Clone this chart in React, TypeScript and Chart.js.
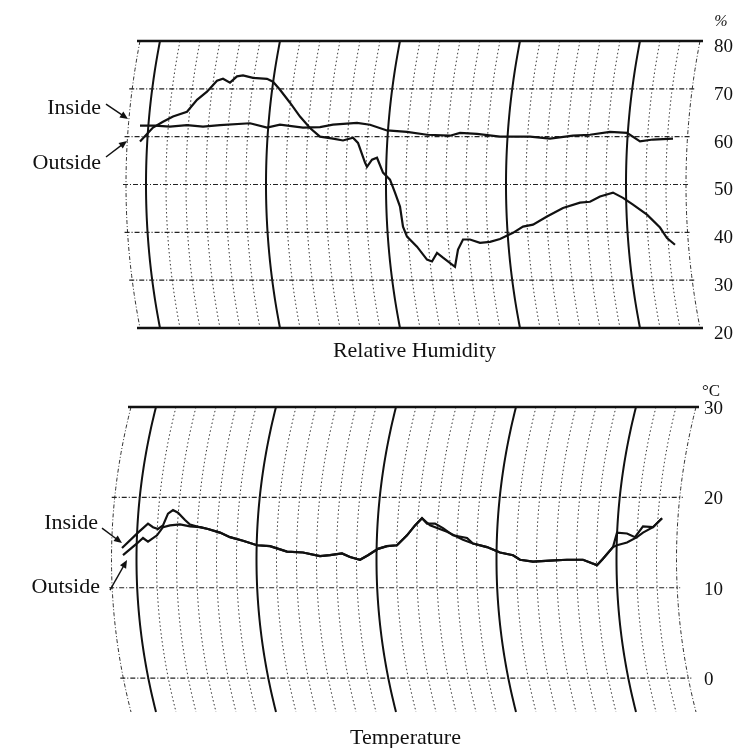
import React, { useEffect, useRef } from "react";
import { Chart, registerables } from "chart.js";

Chart.register(...registerables);

// ---------- Relative humidity (%), time in hours from first bold chart line ----------
const humOutsideHours = [-4, -1.4, 0.6, 2.6, 5.4, 7.4, 9.4, 11.4, 12.6, 14, 15.4, 16.6, 18.6, 21.4, 22.6, 24, 26, 28, 30, 32, 34.6, 36.6, 38.6, 39.6, 41, 41.4, 42.4, 43.4, 44.6, 46, 47, 48, 48.6, 49.4, 51.4, 53.4, 54.4, 55.4, 56.6, 59, 59.6, 60.6, 62, 64, 66, 68, 70.6, 72.6, 74.6, 77.4, 80.6, 84, 86, 88, 90.6, 92.6, 94.6, 97.4, 100, 101.4, 103];
const humOutside = [59.0, 61.9, 63.1, 64.2, 65.2, 67.7, 69.4, 71.7, 72.1, 71.3, 72.6, 72.8, 72.3, 72.1, 71.5, 69.8, 67.1, 64.2, 61.8, 60.0, 59.6, 59.2, 59.8, 58.7, 54.6, 53.7, 55.2, 55.6, 52.5, 51.0, 48.3, 45.4, 41.2, 39.1, 37.0, 34.3, 33.9, 35.7, 34.7, 32.8, 36.4, 38.5, 38.5, 37.8, 38.0, 38.6, 39.9, 41.2, 41.6, 43.3, 45.1, 46.2, 46.4, 47.5, 48.3, 47.2, 45.8, 43.7, 41.0, 38.8, 37.4];

const humInsideHours = [-4, -1, 2, 5.4, 8.6, 12, 18, 21.4, 24, 28.6, 32, 34.6, 39.4, 42, 45.4, 49.4, 53.4, 58, 60, 63.4, 68, 70.6, 74, 78, 82.6, 86, 90, 93.4, 96, 98.6, 102.6];
const humInside = [62.3, 62.3, 62.1, 62.4, 62.1, 62.4, 62.8, 61.9, 62.5, 61.9, 62.0, 62.5, 62.9, 62.5, 61.3, 61.0, 60.4, 60.2, 60.8, 60.6, 60.0, 60.0, 60.0, 59.6, 60.2, 60.4, 61.0, 60.8, 59.0, 59.4, 59.6];

const humTicks = [20, 30, 40, 50, 60, 70, 80];

// ---------- Temperature (°C) ----------
const tempInsideHours = [-6.8, -3.6, -1.6, -0.6, 0.4, 1.4, 2.4, 3.4, 4.4, 5.8, 6.8, 8.8, 10.4, 12.8, 14.8, 17.4, 20.2, 22.8, 26.2, 29.4, 32.8, 34.8, 37.2, 38.8, 40.8, 42.4, 44.4, 46.2, 48.2, 50.2, 51.8, 53.2, 54.2, 55.8, 57.4, 59.4, 62.2, 63.4, 66.2, 68.8, 71.4, 72.8, 75.4, 78.8, 82.2, 85.4, 87.2, 88.2, 89.4, 91.4, 92.2, 94.2, 95.8, 97.4, 99.4, 101.2];
const tempInside = [14.4, 16.1, 17.1, 16.7, 16.5, 16.9, 18.2, 18.6, 18.3, 17.5, 17.0, 16.7, 16.5, 16.1, 15.6, 15.2, 14.7, 14.6, 14.0, 13.9, 13.5, 13.6, 13.8, 13.4, 13.1, 13.6, 14.3, 14.6, 14.7, 15.8, 16.9, 17.7, 17.1, 17.1, 16.6, 15.8, 15.5, 14.9, 14.5, 13.9, 13.6, 13.1, 12.9, 13.0, 13.1, 13.1, 12.7, 12.5, 13.2, 14.5, 16.1, 16.0, 15.6, 16.8, 16.7, 17.7];

const tempOutsideHours = [-6.6, -3.8, -2.6, -1.6, 0.2, 1.4, 2.8, 4.8, 6.8, 8.8, 10.4, 12.8, 14.8, 17.4, 20.2, 22.8, 26.2, 29.4, 32.8, 34.8, 37.2, 38.8, 40.8, 42.4, 44.4, 46.2, 48.2, 50.2, 51.8, 53.2, 54.8, 58.2, 61.4, 63.4, 66.2, 68.8, 71.4, 72.8, 75.4, 78.8, 82.2, 85.4, 87.2, 88.2, 89.4, 91.4, 92.2, 94.2, 96.2, 97.4, 99.4, 101.2];
const tempOutside = [13.6, 14.9, 15.5, 15.1, 15.8, 16.7, 16.9, 17.0, 16.8, 16.7, 16.5, 16.1, 15.6, 15.2, 14.7, 14.6, 14.0, 13.9, 13.5, 13.6, 13.8, 13.4, 13.1, 13.6, 14.3, 14.6, 14.7, 15.8, 16.9, 17.7, 16.9, 16.2, 15.3, 14.9, 14.5, 13.9, 13.6, 13.1, 12.9, 13.0, 13.1, 13.1, 12.7, 12.5, 13.2, 14.5, 14.7, 15.0, 15.6, 16.1, 16.7, 17.7];

const tempTicks = [0, 10, 20, 30];

// ---------- chart paper grid (hours) ----------
const humArcHours = [-4, 0, 4, 8, 12, 16, 20, 24, 28, 32, 36, 40, 44, 48, 52, 56, 60, 64, 68, 72, 76, 80, 84, 88, 92, 96, 100, 104, 108];
const tempArcHours = [-5, 0, 4, 8, 12, 16, 20, 24, 28, 32, 36, 40, 44, 48, 52, 56, 60, 64, 68, 72, 76, 80, 84, 88, 92, 96, 100, 104, 108];
const boldHours = [0, 24, 48, 72, 96];

const SERIF = '"Liberation Serif", "DejaVu Serif", "Times New Roman", serif';
const INK = "#111";

type Anno = { text: string; tx: number; ty: number; ax1: number; ay1: number; ax2: number; ay2: number };
type PanelCfg = {
  arcs: number[];
  boundary: number[];
  sag: number;
  boldLevels: number[];
  levels: number[];
  title: string;
  titleGap: number;
  unit: string;
  unitDx: number;
  unitDy: number;
  unitFont: string;
  annos: Anno[];
};

function arrow(ctx: CanvasRenderingContext2D, x1: number, y1: number, x2: number, y2: number) {
  const ang = Math.atan2(y2 - y1, x2 - x1);
  const hl = 8, hw = 3.5;
  ctx.setLineDash([]);
  ctx.lineWidth = 1.4;
  ctx.strokeStyle = INK;
  ctx.beginPath();
  ctx.moveTo(x1, y1);
  ctx.lineTo(x2 - Math.cos(ang) * hl * 0.8, y2 - Math.sin(ang) * hl * 0.8);
  ctx.stroke();
  ctx.beginPath();
  ctx.moveTo(x2, y2);
  ctx.lineTo(x2 - Math.cos(ang) * hl - Math.sin(ang) * hw, y2 - Math.sin(ang) * hl + Math.cos(ang) * hw);
  ctx.lineTo(x2 - Math.cos(ang) * hl + Math.sin(ang) * hw, y2 - Math.sin(ang) * hl - Math.cos(ang) * hw);
  ctx.closePath();
  ctx.fillStyle = INK;
  ctx.fill();
}

function makePlugin(cfg: PanelCfg) {
  return {
    id: "recorderPaper",
    beforeDatasetsDraw(chart: any) {
      const { ctx, chartArea } = chart;
      const xs = chart.scales.x, ys = chart.scales.y;
      const top = chartArea.top, bottom = chartArea.bottom;
      const mid = (top + bottom) / 2, half = (bottom - top) / 2;
      const bend = (py: number) => {
        const u = (py - mid) / half;
        return cfg.sag * (1 - u * u);
      };
      ctx.save();
      for (const t of cfg.arcs) {
        ctx.beginPath();
        for (let i = 0; i <= 60; i++) {
          const py = top + ((bottom - top) * i) / 60;
          const px = xs.getPixelForValue(t - bend(py));
          if (i === 0) ctx.moveTo(px, py);
          else ctx.lineTo(px, py);
        }
        if (boldHours.includes(t)) {
          ctx.setLineDash([]);
          ctx.lineWidth = 2;
          ctx.strokeStyle = INK;
        } else if (cfg.boundary.includes(t)) {
          ctx.setLineDash([4, 2, 1, 2]);
          ctx.lineWidth = 1;
          ctx.strokeStyle = "#333";
        } else {
          ctx.setLineDash([1.5, 2.5]);
          ctx.lineWidth = 1;
          ctx.strokeStyle = "#333";
        }
        ctx.stroke();
      }
      const tL = Math.min(...cfg.arcs), tR = Math.max(...cfg.arcs);
      for (const v of cfg.levels) {
        const py = ys.getPixelForValue(v);
        const b = bend(py);
        const x1 = xs.getPixelForValue(tL - b) - 3;
        const x2 = xs.getPixelForValue(tR - b) + 3;
        ctx.beginPath();
        ctx.moveTo(x1, py);
        ctx.lineTo(x2, py);
        if (cfg.boldLevels.includes(v)) {
          ctx.setLineDash([]);
          ctx.lineWidth = 2.5;
          ctx.strokeStyle = INK;
        } else {
          ctx.setLineDash([5, 2, 1, 2]);
          ctx.lineWidth = 1.2;
          ctx.strokeStyle = "#222";
        }
        ctx.stroke();
      }
      ctx.restore();
    },
    afterDraw(chart: any) {
      const { ctx, chartArea } = chart;
      const xs = chart.scales.x, ys = chart.scales.y;
      ctx.save();
      ctx.fillStyle = INK;
      ctx.font = `22px ${SERIF}`;
      ctx.textBaseline = "middle";
      ctx.textAlign = "right";
      for (const a of cfg.annos) {
        ctx.fillText(a.text, xs.getPixelForValue(a.tx), ys.getPixelForValue(a.ty));
        arrow(ctx, xs.getPixelForValue(a.ax1), ys.getPixelForValue(a.ay1), xs.getPixelForValue(a.ax2), ys.getPixelForValue(a.ay2));
      }
      ctx.textAlign = "center";
      ctx.fillStyle = INK;
      ctx.font = `22px ${SERIF}`;
      ctx.fillText(cfg.title, (chartArea.left + chartArea.right) / 2, chartArea.bottom + cfg.titleGap);
      ctx.font = cfg.unitFont;
      ctx.fillText(cfg.unit, chartArea.right + cfg.unitDx, chartArea.top + cfg.unitDy);
      ctx.restore();
    },
  };
}

function lineSet(hours: number[], values: number[], label: string) {
  return {
    label,
    data: hours.map((h, i) => ({ x: h, y: values[i] })),
    borderColor: INK,
    borderWidth: 2.2,
    pointRadius: 0,
    tension: 0,
    fill: false,
  };
}

function makeChart(
  canvas: HTMLCanvasElement,
  datasets: any[],
  xMin: number,
  xMax: number,
  yMin: number,
  yMax: number,
  ticks: number[],
  padding: any,
  axisWidth: number,
  tickPad: number,
  labelOffset: number,
  cfg: PanelCfg
) {
  return new Chart(canvas, {
    type: "line",
    data: { datasets },
    options: {
      animation: false,
      responsive: false,
      devicePixelRatio: 1,
      layout: { padding },
      plugins: { legend: { display: false }, tooltip: { enabled: false }, title: { display: false } },
      scales: {
        x: { type: "linear", min: xMin, max: xMax, display: false },
        y: {
          type: "linear",
          position: "right",
          min: yMin,
          max: yMax,
          grid: { display: false, drawTicks: false },
          border: { display: false },
          afterBuildTicks: (s: any) => {
            s.ticks = ticks.map((v) => ({ value: v }));
          },
          afterFit: (s: any) => {
            s.width = axisWidth;
          },
          ticks: {
            padding: tickPad,
            labelOffset,
            color: INK,
            font: { family: SERIF, size: 19 },
            callback: (v: any) => String(v),
          },
        },
      },
    } as any,
    plugins: [makePlugin(cfg) as any],
  });
}

export default function App() {
  const topRef = useRef<HTMLCanvasElement>(null);
  const botRef = useRef<HTMLCanvasElement>(null);

  useEffect(() => {
    const humCfg: PanelCfg = {
      arcs: humArcHours,
      boundary: [-4, 108],
      sag: 2.8,
      boldLevels: [20, 80],
      levels: humTicks,
      title: "Relative Humidity",
      titleGap: 23,
      unit: "%",
      unitDx: 18,
      unitDy: -19,
      unitFont: `italic 16px ${SERIF}`,
      annos: [
        { text: "Inside", tx: -11.8, ty: 66.0, ax1: -10.8, ay1: 66.8, ax2: -6.4, ay2: 63.7 },
        { text: "Outside", tx: -11.8, ty: 54.5, ax1: -10.8, ay1: 55.75, ax2: -6.6, ay2: 59.1 },
      ],
    };
    const tempCfg: PanelCfg = {
      arcs: tempArcHours,
      boundary: [-5, 108],
      sag: 3.9,
      boldLevels: [30],
      levels: tempTicks,
      title: "Temperature",
      titleGap: 26,
      unit: "°C",
      unitDx: 11,
      unitDy: -15,
      unitFont: `17px ${SERIF}`,
      annos: [
        { text: "Inside", tx: -11.6, ty: 17.16, ax1: -10.8, ay1: 16.6, ax2: -6.8, ay2: 14.94 },
        { text: "Outside", tx: -11.2, ty: 10.07, ax1: -9.2, ay1: 9.74, ax2: -5.8, ay2: 13.06 },
      ],
    };

    const c1 = makeChart(
      topRef.current!,
      [lineSet(humInsideHours, humInside, "Inside"), lineSet(humOutsideHours, humOutside, "Outside")],
      -6.8, 108.6, 20, 80, humTicks,
      { left: 126, top: 41, right: 0, bottom: 42 },
      33, 11, 6, humCfg
    );
    const c2 = makeChart(
      botRef.current!,
      [lineSet(tempInsideHours, tempInside, "Inside"), lineSet(tempOutsideHours, tempOutside, "Outside")],
      -9, 108.8, -3.75, 30, tempTicks,
      { left: 111, top: 37, right: 0, bottom: 36 },
      36, 4, 2, tempCfg
    );
    return () => {
      c1.destroy();
      c2.destroy();
    };
  }, []);

  return (
    <div style={{ position: "absolute", left: 0, top: 0, width: 736, height: 748, background: "#fff" }}>
      <canvas ref={topRef} width={736} height={370} style={{ position: "absolute", left: 0, top: 0, width: 736, height: 370 }} />
      <canvas ref={botRef} width={736} height={378} style={{ position: "absolute", left: 0, top: 370, width: 736, height: 378 }} />
    </div>
  );
}
